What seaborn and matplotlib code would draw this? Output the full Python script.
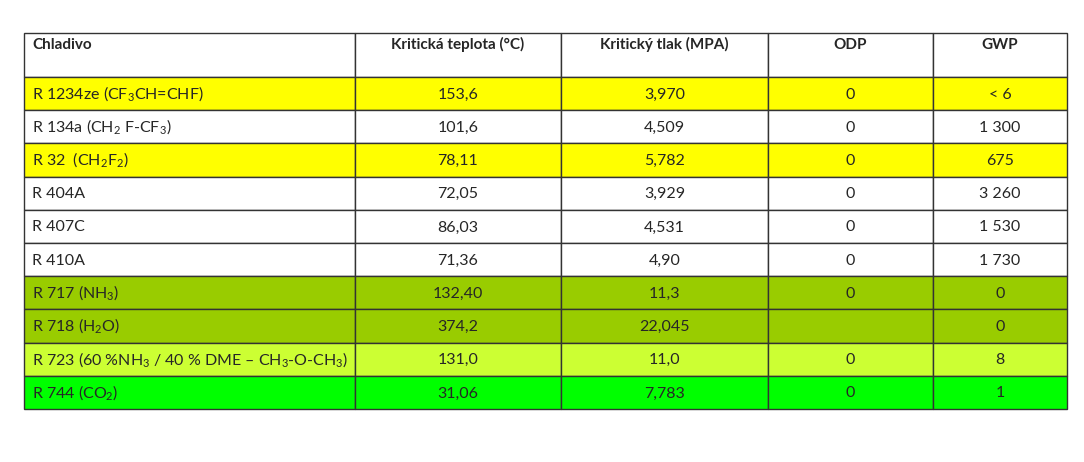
import matplotlib
matplotlib.use("Agg")
import matplotlib.pyplot as plt
import seaborn as sns

sns.set_theme(style="white")
plt.rcParams['font.family'] = ['Lato', 'DejaVu Sans']
plt.rcParams['mathtext.fontset'] = 'custom'
plt.rcParams['mathtext.rm'] = 'Lato'
plt.rcParams['mathtext.it'] = 'Lato'

headers = ["Chladivo", "Kritická teplota (°C)", "Kritický tlak (MPA)", "ODP", "GWP"]
refrigerants = ["R 1234ze (CF$_3$CH=CHF)", "R 134a (CH$_2$ F-CF$_3$)", "R 32  (CH$_2$F$_2$)",
                "R 404A", "R 407C", "R 410A", "R 717 (NH$_3$)", "R 718 (H$_2$O)",
                "R 723 (60 %NH$_3$ / 40 % DME – CH$_3$-O-CH$_3$)", "R 744 (CO$_2$)"]
crit_temp = ["153,6", "101,6", "78,11", "72,05", "86,03", "71,36", "132,40", "374,2", "131,0", "31,06"]
crit_press = ["3,970", "4,509", "5,782", "3,929", "4,531", "4,90", "11,3", "22,045", "11,0", "7,783"]
odp = ["0", "0", "0", "0", "0", "0", "0", "", "0", "0"]
gwp = ["< 6", "1 300", "675", "3 260", "1 530", "1 730", "0", "0", "8", "1"]
row_colors = ["#FFFF00", "#FFFFFF", "#FFFF00", "#FFFFFF", "#FFFFFF", "#FFFFFF",
              "#99CC00", "#99CC00", "#CCFF33", "#00FF00"]

W, H = 1084, 462
fig = plt.figure(figsize=(W/100, H/100), dpi=100)
ax = fig.add_axes([0, 0, 1, 1])
ax.set_xlim(0, W)
ax.set_ylim(H, 0)
ax.axis('off')

col_edges = [24, 355, 561, 768, 933, 1067]
header_top, header_bot = 33, 77
row_h = (409 - 77) / len(refrigerants)

for c in range(5):
    ax.barh(header_top, col_edges[c+1]-col_edges[c], height=header_bot-header_top,
            left=col_edges[c], align='edge', color='white', edgecolor='#333333', linewidth=1)
    x = col_edges[0]+8 if c == 0 else (col_edges[c]+col_edges[c+1])/2
    ax.text(x, 49, headers[c], ha='left' if c == 0 else 'center', va='baseline',
            fontsize=11, fontweight='bold')

cols = [refrigerants, crit_temp, crit_press, odp, gwp]
for r in range(len(refrigerants)):
    y0 = header_bot + r*row_h
    for c in range(5):
        ax.barh(y0, col_edges[c+1]-col_edges[c], height=row_h, left=col_edges[c], align='edge',
                color=row_colors[r], edgecolor='#333333', linewidth=1)
        x = col_edges[0]+8 if c == 0 else (col_edges[c]+col_edges[c+1])/2
        ax.text(x, y0+row_h/2+5, cols[c][r], ha='left' if c == 0 else 'center',
                va='baseline', fontsize=11.5)

fig.savefig("out.png", dpi=100, facecolor='white')
